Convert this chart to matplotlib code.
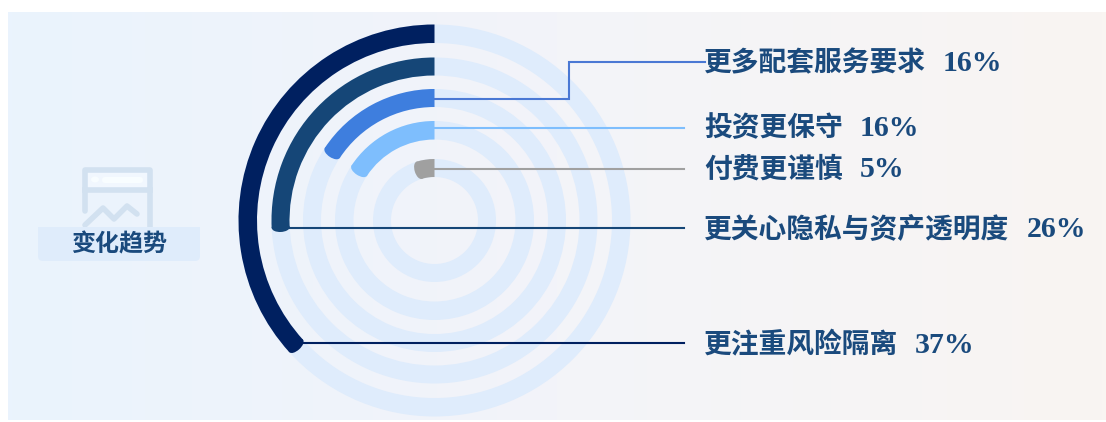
import numpy as np
import matplotlib
matplotlib.use("Agg")
import matplotlib.pyplot as plt
from matplotlib.patches import Wedge, Ellipse, FancyBboxPatch, Rectangle

# Survey shares, outermost ring first
labels = ["更注重风险隔离", "更关心隐私与资产透明度", "更多配套服务要求", "投资更保守", "付费更谨慎"]
values = [37, 26, 16, 16, 5]
colors = ["#002060", "#154677", "#3E7EDE", "#7EBEFD", "#A0A0A0"]
outer_r = [196, 163, 131.5, 99.5, 61.5]
inner_r = [177.5, 145, 113.5, 81, 43.5]
label_y = [346, 230, 64, 129, 170]
badge_text = "变化趋势"

CX, CY = 434.5, 220.5
TRACK = "#DFECFC"
TEXT = "#1A4A7D"
FONT = ["Liberation Serif", "Noto Sans CJK SC"]

fig = plt.figure(figsize=(11.06, 4.22), dpi=100, facecolor="white")
ax = fig.add_axes([0, 0, 1, 1])
ax.axis("off")

# Panel background, left to right gradient
stops = np.array([[234, 243, 253], [243, 244, 249], [249, 245, 242]]) / 255
xs = np.linspace(0, 1, 256)
grad = np.stack([np.interp(xs, [0, 0.5, 1], stops[:, i]) for i in range(3)], axis=-1)[None, :, :]
ax.imshow(grad, extent=(8, 1106, 420, 12), aspect="auto", zorder=0)
ax.set_xlim(0, 1106)
ax.set_ylim(422, 0)

# Icon behind the badge
ICON = "#D2E1F0"
ICON_LW = 4.0
ax.add_patch(Rectangle((85, 170), 65, 20, fc="#F1F7FE", ec="none", zorder=1))
ax.plot([85, 85, 150, 150], [211, 170, 170, 228], color=ICON, lw=ICON_LW, zorder=1,
        solid_capstyle="round", solid_joinstyle="round")
ax.plot([85, 150], [190, 190], color=ICON, lw=ICON_LW, zorder=1)
ax.plot([85, 103, 114, 127, 137], [225, 208, 219, 206, 214], color=ICON, lw=ICON_LW,
        solid_capstyle="round", solid_joinstyle="round", zorder=1)
ax.add_patch(Ellipse((95, 179.5), 8, 6, fc="#F8FDFF", ec="none", zorder=2))
ax.add_patch(FancyBboxPatch((102, 177), 41, 6, boxstyle="round,pad=0,rounding_size=3",
                            fc="#F8FDFF", ec="none", zorder=2))

# Badge with the section name, square on top and rounded below
BADGE = "#DFECFB"
ax.add_patch(FancyBboxPatch((38, 227), 162, 34, boxstyle="round,pad=0,rounding_size=5",
                            fc=BADGE, ec="none", zorder=3))
ax.add_patch(Rectangle((38, 227), 162, 12, fc=BADGE, ec="none", zorder=3))
ax.text(119, 245, badge_text, family=FONT, weight="bold", fontsize=17.3, color=TEXT,
        ha="center", va="center", zorder=4)

# Rings
for value, col, ro, ri in zip(values, colors, outer_r, inner_r):
    ax.add_patch(Wedge((CX, CY), ro, 0, 360, width=ro - ri, fc=TRACK, ec="none", zorder=1))
    rm = (ro + ri) / 2
    # the rounded end is part of the sweep
    sweep = value * 3.6 - 1
    ax.add_patch(Wedge((CX, CY), ro, 270 - sweep, 270, width=ro - ri, fc=col, ec="none", zorder=2))
    t = np.radians(270 - sweep)
    ax.add_patch(Ellipse((CX + rm * np.cos(t), CY + rm * np.sin(t)), ro - ri, 9,
                         angle=np.degrees(t), fc=col, ec="none", zorder=2))

# Leader lines
LW = 1.5
ax.plot([296, 684], [342.5, 342.5], color=colors[0], lw=LW, zorder=3)
ax.plot([289, 684], [228, 228], color=colors[1], lw=LW, zorder=3)
ax.plot([CX, 569, 569, 705], [99, 99, 62, 62], color="#4A78D4", lw=LW, zorder=3,
        solid_joinstyle="miter")
ax.plot([CX, 684], [128, 128], color=colors[3], lw=LW, zorder=3)
ax.plot([CX, 684], [169, 169], color=colors[4], lw=LW, zorder=3)

# Labels, with the share set a little larger after each one
fig.canvas.draw()
renderer = fig.canvas.get_renderer()
inv = ax.transData.inverted()
for name, value, y in zip(labels, values, label_y):
    t = ax.text(704, y, name, family=FONT, weight="bold", fontsize=20,
                color=TEXT, ha="left", va="center", zorder=4)
    right = inv.transform(t.get_window_extent(renderer).get_points())[1][0]
    ax.text(right + 17, y - 0.5, f"{value}%", family=FONT, weight="bold", fontsize=21.5,
            color=TEXT, ha="left", va="center", zorder=4)

fig.savefig("out.png", dpi=100, facecolor="white")
